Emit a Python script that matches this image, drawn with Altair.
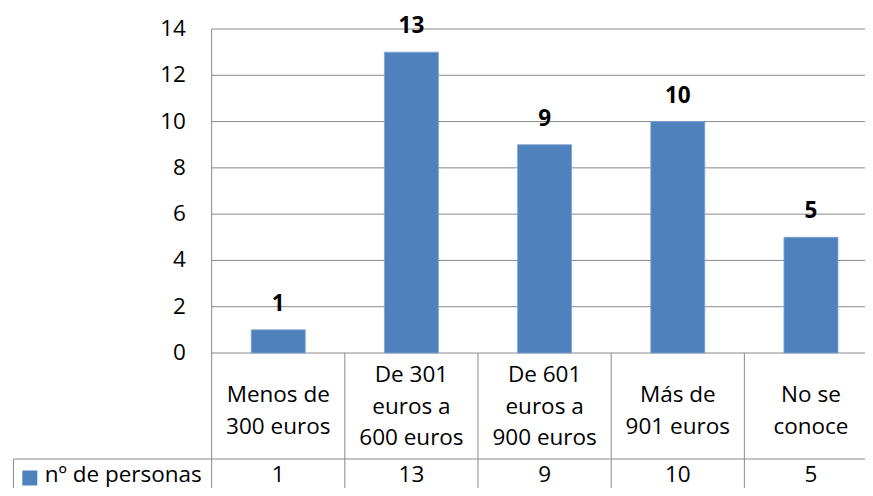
import altair as alt
import pandas as pd

# ---- data ----
categories = ["Menos de\n300 euros", "De 301\neuros a\n600 euros",
              "De 601\neuros a\n900 euros", "Más de\n901 euros", "No se\nconoce"]
values = [1, 13, 9, 10, 5]
series_name = "nº de personas"
y_ticks = [0, 2, 4, 6, 8, 10, 12, 14]

# ---- layout helpers (page pixel -> data units) ----
KX = 134.75          # px per category
KY = 324 / 14        # px per y unit
AXIS_X = 209         # page x of value axis
ZERO_Y = 353         # page y of value 0
RIGHT = 865          # page x of svg right edge
BOTTOM = 488         # page y of svg bottom edge


def ux(px):
    return (px - AXIS_X) / KX


def uy(py):
    return (ZERO_Y - py) / KY


FONT = "Open Sans"
FS = 22.5
LH = 31.5
GRID = "#8a8a8a"
BLUE = "#4F81BD"

n = len(categories)
x_scale = alt.Scale(domain=[ux(8), ux(RIGHT)], nice=False, zero=False)
y_scale = alt.Scale(domain=[uy(BOTTOM), 14], nice=False, zero=False)

df = pd.DataFrame({"cat": categories, "val": values,
                   "pos": [i + 0.5 for i in range(n)]})

row2_top = uy(459)
row2_y = uy(474.5)
bottom = uy(BOTTOM)

grid_df = pd.DataFrame({"g": y_ticks, "x0": 0, "x1": n})
hline_df = pd.DataFrame({"g": [row2_top], "x0": [ux(8.5)], "x1": [n]})
vline_df = pd.DataFrame({
    "x": [0] + list(range(1, n + 1)) + [ux(8.5)],
    "y0": [14] + [0] * n + [row2_top],
    "y1": [bottom] * (n + 2),
})
ylab_df = pd.DataFrame({"g": y_ticks, "lx": ux(183)})

X = lambda f: alt.X(f, scale=x_scale, axis=None)
Y = lambda f: alt.Y(f, scale=y_scale, axis=None)

grid = alt.Chart(grid_df).mark_rule(color=GRID, strokeWidth=1).encode(
    x=X("x0:Q"), x2="x1:Q", y=Y("g:Q"))
hline = alt.Chart(hline_df).mark_rule(color=GRID, strokeWidth=1).encode(
    x=X("x0:Q"), x2="x1:Q", y=Y("g:Q"))
vlines = alt.Chart(vline_df).mark_rule(color=GRID, strokeWidth=1).encode(
    x=X("x:Q"), y=Y("y0:Q"), y2="y1:Q")

ylabels = alt.Chart(ylab_df).mark_text(align="right", baseline="middle", font=FONT,
                                       fontSize=FS, color="black").encode(
    x=X("lx:Q"), y=Y("g:Q"), text="g:Q")

bars = alt.Chart(df).mark_bar(size=54, color=BLUE, stroke="#7fa3d3", strokeWidth=0.8).encode(
    x=X("pos:Q"), y=Y("val:Q"))

bar_labels = alt.Chart(df).mark_text(dy=-19, baseline="alphabetic", fontWeight="bold",
                                     font=FONT, fontSize=FS, color="black").encode(
    x=X("pos:Q"), y=Y("val:Q"), text="val:Q")

# page y of the first line of each multi-line category label
n_lines = [c.count("\n") + 1 for c in categories]
cat_df = df.assign(ry=[uy(395 - 20 * (k - 2)) for k in n_lines])
cat_text = alt.Chart(cat_df).mark_text(lineBreak="\n", lineHeight=LH, baseline="middle",
                                       font=FONT, fontSize=FS, color="black").encode(
    x=X("pos:Q"), y=Y("ry:Q"), text="cat:N")

val_df = df.assign(ry=row2_y)
val_text = alt.Chart(val_df).mark_text(baseline="middle", font=FONT, fontSize=FS,
                                       color="black").encode(
    x=X("pos:Q"), y=Y("ry:Q"), text="val:Q")

leg_df = pd.DataFrame({"name": [series_name], "sx": [ux(25)], "tx": [ux(40)],
                       "sy": [uy(478)], "ry": [row2_y]})
leg_sq = alt.Chart(leg_df).mark_point(shape="square", filled=True, size=225, color=BLUE,
                                      opacity=1).encode(x=X("sx:Q"), y=Y("sy:Q"))
leg_text = alt.Chart(leg_df).mark_text(align="left", baseline="middle", font=FONT,
                                       fontSize=FS, color="black").encode(
    x=X("tx:Q"), y=Y("ry:Q"), text="name:N")

chart = alt.layer(grid, hline, vlines, ylabels, bars, bar_labels, cat_text, val_text,
                  leg_sq, leg_text).properties(
    width=RIGHT - 8, height=BOTTOM - 29,
    autosize=alt.AutoSizeParams(type="none"),
    padding={"top": 21, "left": 0, "right": 0, "bottom": 0},
    background="white",
).configure_view(stroke=None)

chart.save("out.html", embed_options={"renderer": "svg", "actions": False})
